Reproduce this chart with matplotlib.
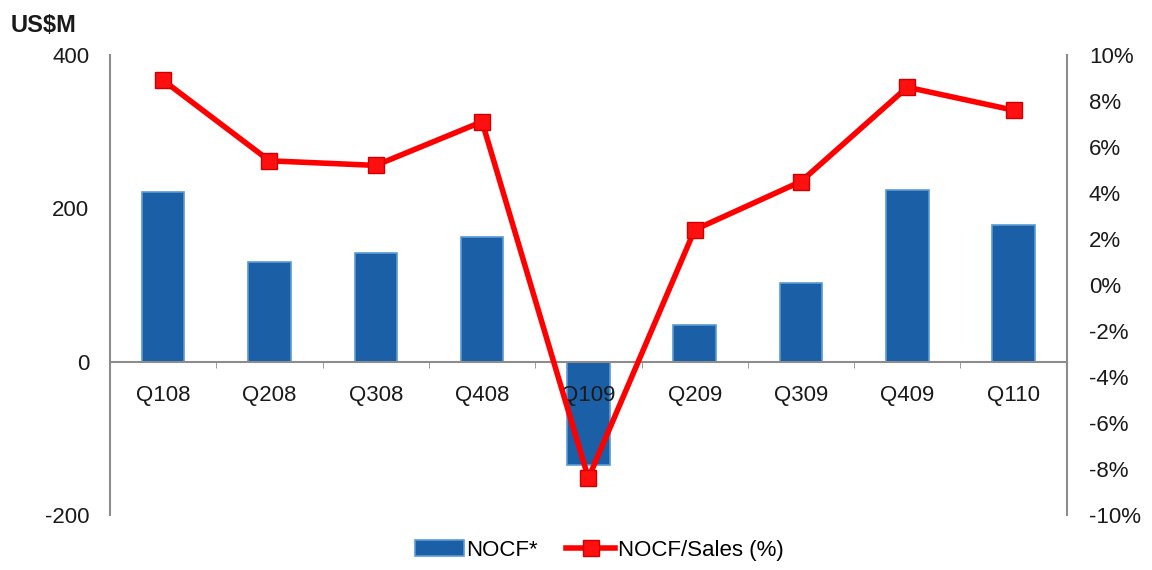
"""
NOCF by quarter with NOCF/Sales ratio on secondary axis
"""
import numpy as np
import matplotlib
matplotlib.use('Agg')
import matplotlib.pyplot as plt
from matplotlib.ticker import FuncFormatter

plt.rcParams['font.family'] = ['Liberation Sans', 'DejaVu Sans']
plt.rcParams['axes.unicode_minus'] = False

# Data
quarters = ['Q108', 'Q208', 'Q308', 'Q408', 'Q109', 'Q209', 'Q309', 'Q409', 'Q110']
nocf = [221, 130, 142, 163, -135, 48, 103, 224, 178]           # US$M
nocf_sales = [8.9, 5.4, 5.2, 7.1, -8.4, 2.4, 4.5, 8.6, 7.6]     # %

x = np.arange(len(quarters))
grey = '#8c8c8c'
txt = '#1a1a1a'

fig = plt.figure(figsize=(11.52, 5.7), dpi=100)
ax = fig.add_axes([0.0955, 0.0965, 0.8305, 0.807])
ax.set_axisbelow(False)

bars = ax.bar(x, nocf, width=0.4, color='#1b5fa6', edgecolor='#5b9ad4',
              linewidth=1.2, label='NOCF*', zorder=2)
ax.set_xlim(-0.5, len(quarters) - 0.5)
ax.set_ylim(-200, 400)
ax.set_yticks([-200, 0, 200, 400])
ax.tick_params(axis='y', length=0, labelsize=16, pad=15, colors=txt)

# x axis sits on the zero line
ax.spines['bottom'].set_position(('data', 0))
ax.spines['bottom'].set_color(grey)
ax.spines['bottom'].set_linewidth(1.5)
ax.spines['left'].set_color(grey)
ax.spines['left'].set_linewidth(1.5)
ax.spines['top'].set_visible(False)
ax.spines['right'].set_visible(False)
ax.set_xticks(x)
ax.set_xticklabels(quarters)
ax.set_xticks(x[:-1] + 0.5, minor=True)
ax.tick_params(axis='x', which='major', length=0, labelsize=16, pad=17, colors=txt)
ax.tick_params(axis='x', which='minor', length=4, color=grey, direction='out')

# Ratio line on secondary axis
ax2 = ax.twinx()
line, = ax2.plot(x, nocf_sales, color='#ff0000', linewidth=4, marker='s',
                 markersize=12, markerfacecolor='#ff1010', markeredgecolor='#d00000',
                 label='NOCF/Sales (%)', zorder=3)
ax2.set_ylim(-10, 10)
ax2.set_yticks(np.arange(-10, 11, 2))
ax2.yaxis.set_major_formatter(FuncFormatter(lambda v, p: f'{v:.0f}%'))
ax2.tick_params(axis='y', length=0, labelsize=16, pad=16, colors=txt)
for s in ['top', 'bottom', 'left']:
    ax2.spines[s].set_visible(False)
ax2.spines['right'].set_color(grey)
ax2.spines['right'].set_linewidth(1.5)

fig.text(0.009, 0.955, 'US$M', fontsize=17, fontweight='bold', color=txt, va='center')

fig.legend([bars, line], ['NOCF*', 'NOCF/Sales (%)'], loc='center',
           bbox_to_anchor=(0.52, 0.035), ncol=2, frameon=False, fontsize=16,
           handlelength=2.2, handletextpad=0.1, columnspacing=1.3)

plt.savefig('out.png', dpi=100)
